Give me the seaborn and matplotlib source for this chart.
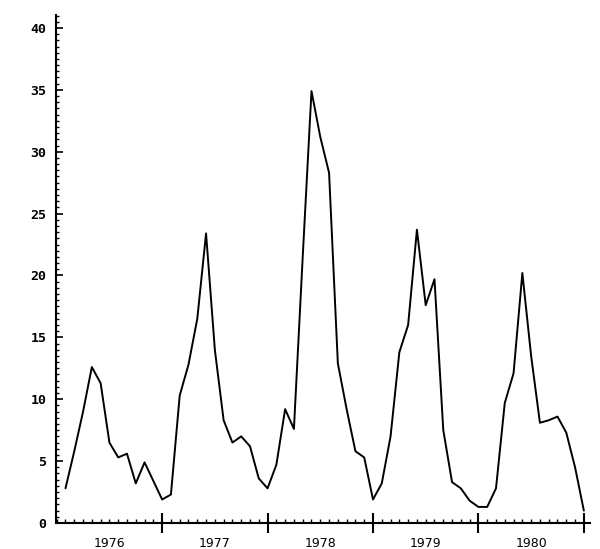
import seaborn as sns
import matplotlib.pyplot as plt
import pandas as pd
from matplotlib.ticker import MultipleLocator, FixedLocator, NullFormatter

# Monthly values, Jan 1976 - Dec 1980
years = [1976, 1977, 1978, 1979, 1980]
values = [
    2.8, 5.8, 9.0, 12.6, 11.3, 6.5, 5.3, 5.6, 3.2, 4.9, 3.4, 1.9,    # 1976
    2.3, 10.3, 12.8, 16.5, 23.4, 14.0, 8.3, 6.5, 7.0, 6.2, 3.6, 2.8,  # 1977
    4.7, 9.2, 7.6, 21.5, 34.9, 31.2, 28.3, 12.9, 9.2, 5.8, 5.3, 1.9,  # 1978
    3.2, 7.0, 13.8, 16.0, 23.7, 17.6, 19.7, 7.5, 3.3, 2.8, 1.8, 1.3,  # 1979
    1.3, 2.8, 9.7, 12.1, 20.2, 13.5, 8.1, 8.3, 8.6, 7.3, 4.5, 1.0,   # 1980
]
months = list(range(1, len(values) + 1))

df = pd.DataFrame({"month": months, "value": values})

sns.set_style("ticks")

fig = plt.figure(figsize=(6, 5.49), dpi=100)
ax = fig.add_axes([56 / 600, 26 / 549, 534 / 600, 508 / 549])

sns.lineplot(data=df, x="month", y="value", color="black", linewidth=1.4, ax=ax)

ax.set_xlim(-0.08, 60.7)
ax.set_ylim(0, 41.05)
ax.set_xlabel("")
ax.set_ylabel("")

for side in ["top", "right"]:
    ax.spines[side].set_visible(False)
for side in ["left", "bottom"]:
    ax.spines[side].set_color("black")
    ax.spines[side].set_linewidth(1.5)

# y axis: major every 5, minor every 0.5, ticks pointing inward
ax.yaxis.set_major_locator(MultipleLocator(5))
ax.yaxis.set_minor_locator(MultipleLocator(0.5))
ax.tick_params(axis="y", which="major", left=True, direction="in", length=5,
               width=1.2, pad=7, labelsize=9.5, colors="black")
ax.tick_params(axis="y", which="minor", left=True, direction="in", length=2.5,
               width=1, colors="black")
for lab in ax.get_yticklabels():
    lab.set_fontfamily("DejaVu Sans Mono")
    lab.set_fontweight("bold")

# x axis: year boundaries as long crossing ticks, months as small ticks
ax.xaxis.set_major_locator(FixedLocator([12 * (k + 1) for k in range(len(years))]))
ax.xaxis.set_minor_locator(MultipleLocator(1))
ax.xaxis.set_major_formatter(NullFormatter())
ax.tick_params(axis="x", which="major", bottom=True, direction="inout",
               length=14, width=1.5, colors="black")
ax.tick_params(axis="x", which="minor", bottom=True, direction="in",
               length=3, width=1, colors="black")

for k, yr in enumerate(years):
    ax.text(12 * k + 6, -0.041, str(yr), transform=ax.get_xaxis_transform(),
            ha="center", va="center", fontsize=9, fontfamily="DejaVu Sans",
            color="black")

fig.savefig("out.png", dpi=100, facecolor="white")
